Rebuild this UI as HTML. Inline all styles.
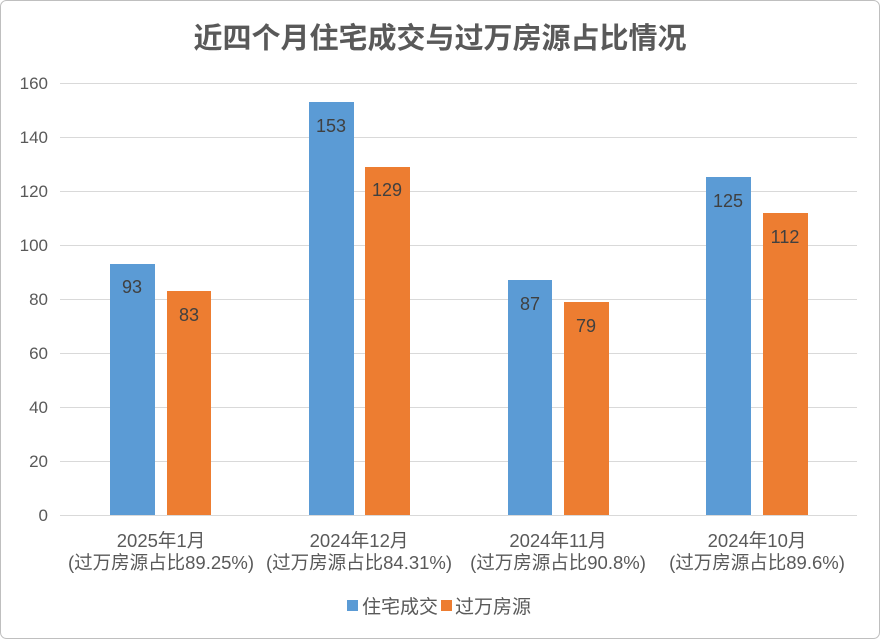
<!DOCTYPE html>
<html><head><meta charset="utf-8"><style>
html,body{margin:0;padding:0;background:#fff;}
svg{display:block;font-family:"Liberation Sans","Noto Sans CJK SC",sans-serif;}
</style></head><body>
<svg width="881" height="640" viewBox="0 0 881 640" xmlns="http://www.w3.org/2000/svg">
<rect x="0.5" y="0.5" width="879" height="638" rx="6" fill="#fff" stroke="#bfbfbf"/>
<text x="440" y="48" text-anchor="middle" font-size="29" font-weight="bold" fill="#595959">近四个月住宅成交与过万房源占比情况</text>
<g stroke="#d9d9d9" stroke-width="1">
<line x1="60" x2="857" y1="83.5" y2="83.5"/><line x1="60" x2="857" y1="137.5" y2="137.5"/>
<line x1="60" x2="857" y1="191.5" y2="191.5"/><line x1="60" x2="857" y1="245.5" y2="245.5"/>
<line x1="60" x2="857" y1="299.5" y2="299.5"/><line x1="60" x2="857" y1="353.5" y2="353.5"/>
<line x1="60" x2="857" y1="407.5" y2="407.5"/><line x1="60" x2="857" y1="461.5" y2="461.5"/>
<line x1="60" x2="857" y1="515.5" y2="515.5"/>
</g>
<g font-size="17" fill="#595959" text-anchor="end">
<text x="48" y="89">160</text><text x="48" y="143">140</text><text x="48" y="197">120</text>
<text x="48" y="251">100</text><text x="48" y="305">80</text><text x="48" y="359">60</text>
<text x="48" y="413">40</text><text x="48" y="467">20</text><text x="48" y="521">0</text>
</g>
<g fill="#5B9BD5">
<rect x="110" y="264" width="45" height="251"/>
<rect x="309" y="102" width="45" height="413"/>
<rect x="508" y="280" width="44" height="235"/>
<rect x="706" y="177" width="45" height="338"/>
</g>
<g fill="#ED7D31">
<rect x="167" y="291" width="44" height="224"/>
<rect x="365" y="167" width="45" height="348"/>
<rect x="564" y="302" width="45" height="213"/>
<rect x="763" y="213" width="45" height="302"/>
</g>
<g font-size="18" fill="#404040" text-anchor="middle">
<text x="132" y="293">93</text><text x="189" y="321">83</text>
<text x="331" y="132">153</text><text x="387" y="196">129</text>
<text x="530" y="310">87</text><text x="586" y="332">79</text>
<text x="728" y="207">125</text><text x="785" y="243">112</text>
</g>
<g font-size="18.5" fill="#595959" text-anchor="middle">
<text x="161" y="547">2025年1月</text><text x="161" y="569">(过万房源占比89.25%)</text>
<text x="359" y="547">2024年12月</text><text x="359" y="569">(过万房源占比84.31%)</text>
<text x="558" y="547">2024年11月</text><text x="558" y="569">(过万房源占比90.8%)</text>
<text x="757" y="547">2024年10月</text><text x="757" y="569">(过万房源占比89.6%)</text>
</g>
<rect x="347" y="600" width="11" height="11" fill="#5B9BD5"/>
<text x="362" y="613" font-size="19" fill="#595959">住宅成交</text>
<rect x="441" y="600" width="11" height="11" fill="#ED7D31"/>
<text x="455" y="613" font-size="19" fill="#595959">过万房源</text>
</svg>
</body></html>
